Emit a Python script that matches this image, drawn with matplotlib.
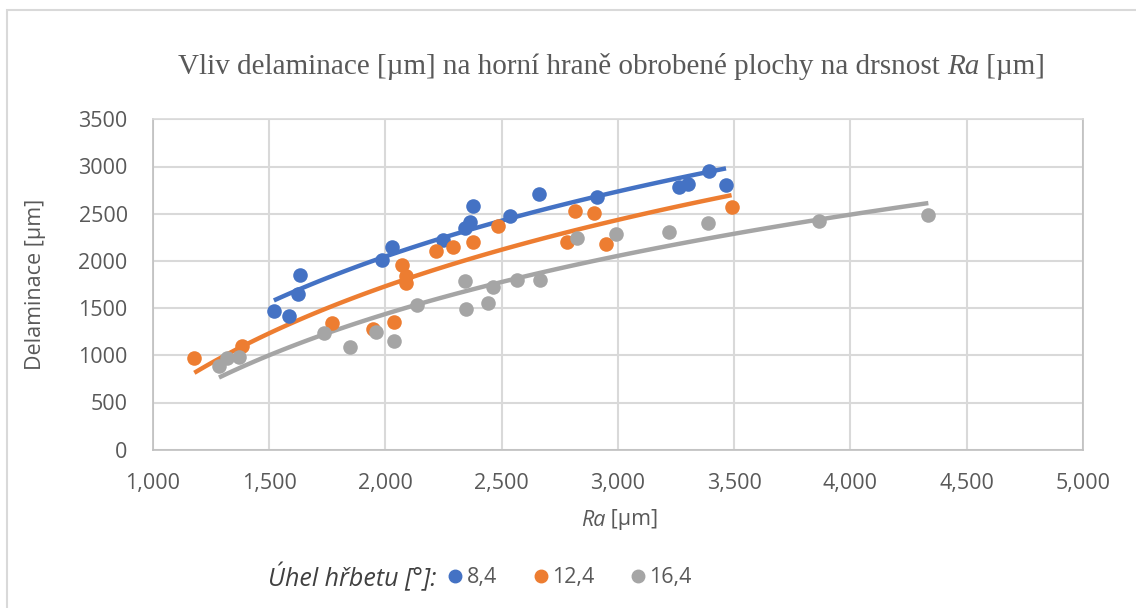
import numpy as np
import matplotlib.pyplot as plt
from matplotlib.lines import Line2D
from matplotlib.patches import Rectangle
from matplotlib.ticker import FuncFormatter, MultipleLocator

# Ra [um] vs delaminace [um] for three back angles
ra_84 = [1521, 1585, 1632, 1625, 1987, 2030, 2247, 2343, 2364, 2378, 2536, 2662, 2909, 3264, 3303, 3393, 3465]
dl_84 = [1472, 1416, 1847, 1646, 2010, 2150, 2221, 2345, 2415, 2585, 2479, 2709, 2680, 2786, 2811, 2955, 2804]

ra_124 = [1179, 1384, 1772, 1948, 2039, 2073, 2088, 2088, 2218, 2290, 2376, 2483, 2780, 2816, 2897, 2949, 3489]
dl_124 = [968, 1099, 1345, 1275, 1356, 1957, 1840, 1763, 2108, 2144, 2203, 2367, 2197, 2529, 2504, 2176, 2568]

ra_164 = [1285, 1318, 1372, 1736, 1850, 1959, 2039, 2135, 2344, 2347, 2442, 2464, 2567, 2665, 2823, 2991, 3221, 3387, 3865, 4335]
dl_164 = [887, 968, 985, 1236, 1085, 1250, 1148, 1533, 1787, 1487, 1551, 1727, 1794, 1798, 2239, 2285, 2309, 2405, 2423, 2483]

labels = ["8,4", "12,4", "16,4"]
colors = ["#4472C4", "#ED7D31", "#A5A5A5"]

plt.rcParams['font.family'] = ['Open Sans', 'DejaVu Sans']
txt_color = "#595959"

fig = plt.figure(figsize=(11.36, 6.08), dpi=100)
# outer chart border
fig.patches.append(Rectangle((7/1136, -0.1), 1.2, 1 - 10/608 + 0.1, transform=fig.transFigure,
                             fill=False, edgecolor="#D9D9D9", linewidth=1.5))
ax = fig.add_axes([152.7/1136, 1 - 449.7/608, (1083 - 152.7)/1136, (449.7 - 119.3)/608])

series = [(ra_84, dl_84), (ra_124, dl_124), (ra_164, dl_164)]
for (x, y), c in zip(series, colors):
    x = np.array(x, dtype=float)
    y = np.array(y, dtype=float)
    ax.scatter(x, y, s=110, color=c, zorder=3, linewidths=0)
    # logarithmic trendline like in Excel
    b, a = np.polyfit(np.log(x), y, 1)
    xs = np.linspace(x.min(), x.max(), 100)
    ax.plot(xs, a + b*np.log(xs), color=c, linewidth=3.2, zorder=2, solid_capstyle="butt")

ax.set_xlim(1000, 5000)
ax.set_ylim(0, 3500)
ax.xaxis.set_major_locator(MultipleLocator(500))
ax.yaxis.set_major_locator(MultipleLocator(500))
ax.xaxis.set_major_formatter(FuncFormatter(lambda v, p: f"{int(v):,}"))
ax.grid(color="#D9D9D9", linewidth=1.5)
ax.set_axisbelow(True)
for s in ax.spines.values():
    s.set_color("#BFBFBF")
    s.set_linewidth(1.2)
ax.spines["top"].set_color("#D9D9D9")
ax.tick_params(length=0, labelsize=15.5, colors=txt_color)
ax.tick_params(axis="x", pad=17)
ax.tick_params(axis="y", pad=18)

# x label: "Ra" italic + " [µm]"
xl_y = 1 - 520/608
xl1 = fig.text(581/1136, xl_y, "Ra", fontsize=15.5, style="italic", color=txt_color,
               ha="left", va="center")
xl2 = fig.text(0, xl_y, " [µm]", fontsize=15.5, color=txt_color, ha="left", va="center")
ax.set_ylabel("Delaminace [µm]", fontsize=15.5, color=txt_color)
ax.yaxis.set_label_coords(-0.115, 0.5)

# title in three parts (serif, Ra italic)
title_y = 1 - 74/608
t1 = fig.text(178/1136, title_y, "Vliv delaminace [µm] na horní hraně obrobené plochy na drsnost ",
              family="Liberation Serif", fontsize=21, color=txt_color, ha="left", va="baseline")
t2 = fig.text(0, title_y, "Ra", family="Liberation Serif", style="italic", fontsize=21, color=txt_color,
              ha="left", va="baseline")
t3 = fig.text(0, title_y, " [µm]", family="Liberation Serif", fontsize=21, color=txt_color,
              ha="left", va="baseline")

# legend
fig.text(268/1136, 1 - 578/608, "Úhel hřbetu [°]:", fontsize=18, style="italic",
         color="#404040", ha="left", va="center")
handles = [Line2D([], [], marker="o", linestyle="", markersize=9, color=c) for c in colors]
fig.legend(handles, labels, loc="center left", bbox_to_anchor=(449/1136, 1 - 578/608), ncol=3,
           frameon=False, fontsize=15.5, labelcolor=txt_color, handletextpad=0.23,
           columnspacing=1.72, handlelength=0.6, borderpad=0, borderaxespad=0)

# chain title / x label pieces after layout
fig.canvas.draw()
r = fig.canvas.get_renderer()
W = fig.bbox.width
t2.set_position((t1.get_window_extent(r).x1/W, title_y))
t3.set_position((t2.get_window_extent(r).x1/W, title_y))
xl2.set_position((xl1.get_window_extent(r).x1/W, xl_y))

fig.savefig("out.png")
